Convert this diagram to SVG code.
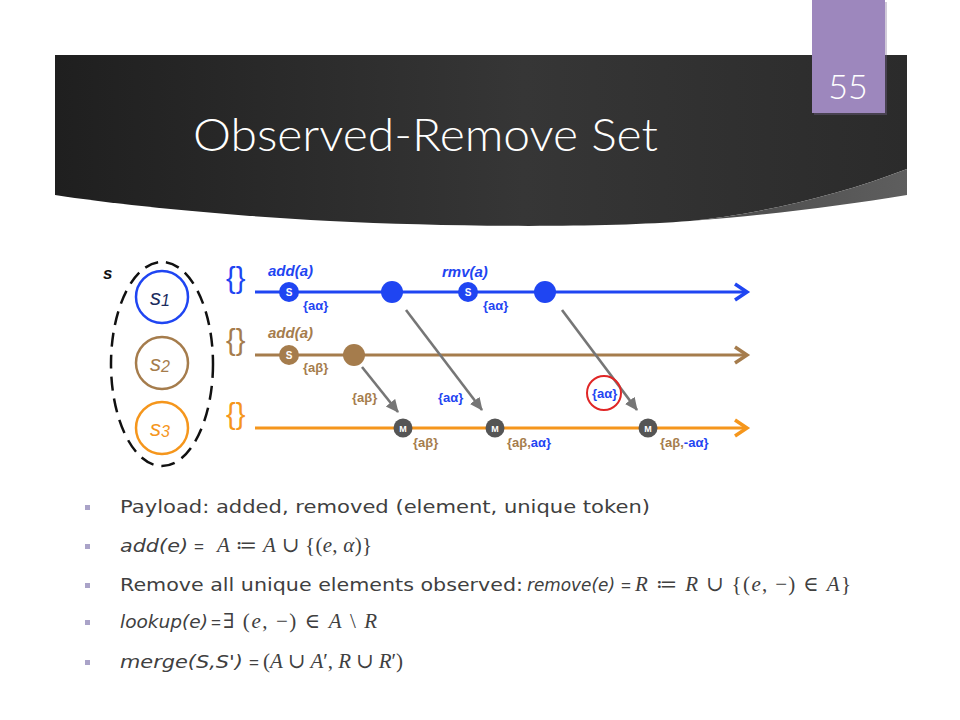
<svg xmlns="http://www.w3.org/2000/svg" width="960" height="720" viewBox="0 0 960 720">
<defs>
<linearGradient id="band" x1="0" y1="0" x2="1" y2="0">
<stop offset="0" stop-color="#1f1f1f"/>
<stop offset="0.55" stop-color="#363636"/>
<stop offset="1" stop-color="#2b2b2b"/>
</linearGradient>
<linearGradient id="curl" x1="0" y1="0" x2="1" y2="0">
<stop offset="0" stop-color="#4a4a4a"/>
<stop offset="1" stop-color="#5e5e5e"/>
</linearGradient>
<marker id="tri" markerWidth="14" markerHeight="14" refX="12" refY="6" orient="auto" markerUnits="userSpaceOnUse">
<path d="M0,0 L13,6 L0,12 Z" fill="#767676"/>
</marker>
</defs>
<style>
.tl{fill:none;stroke-width:3}
.chev{fill:none;stroke-width:3.5;stroke-linejoin:miter}
.lbl{font-family:"Liberation Sans",Arial,sans-serif;font-weight:bold;font-size:13px}
.op{font-family:"Liberation Sans",Arial,sans-serif;font-weight:bold;font-style:italic;font-size:15px}
.brace{font-family:"Liberation Sans",Arial,sans-serif;font-size:29px}
.nodeS{font-family:"Liberation Sans",Arial,sans-serif;font-weight:bold;font-size:10px;fill:#fff;text-anchor:middle}
.nodeM{font-family:"Liberation Sans",Arial,sans-serif;font-weight:bold;font-size:9px;fill:#fff;text-anchor:middle}
.conn{stroke:#767676;stroke-width:2.6;fill:none}
.body{font-family:"DejaVu Sans",sans-serif;font-size:18px;fill:#404040}
.eq{font-family:"Liberation Sans",Arial,sans-serif;font-size:17px;fill:#404040}
.it{font-style:italic}
.math{font-family:"Liberation Serif","DejaVu Serif",serif;font-size:21px;fill:#404040}
.mi{font-style:italic}
.bul{fill:#aaa3c8}
.blue{fill:#1f45f2}.brown{fill:#a57c4c}.orange{fill:#f5961c}
</style>
<rect width="960" height="720" fill="#ffffff"/>

<!-- header -->
<g id="header">
<path d="M55,55 H907 V169 C840,195 760,214 690,221 C600,228 450,227 330,221 C220,215 120,205 55,195 Z" fill="url(#band)"/>
<path d="M907,169 V195 C840,206 760,216 690,221 C760,214 840,195 907,169 Z" fill="url(#curl)"/>
<text x="193" y="151" font-family="Lato, Liberation Sans, Arial, sans-serif" font-weight="300" font-size="46" fill="#ffffff" textLength="465" lengthAdjust="spacingAndGlyphs">Observed-Remove Set</text>
</g>
<g id="pagenum">
<rect x="814" y="2" width="73" height="113" fill="#7a6a92" opacity="0.35"/>
<rect x="812" y="0" width="73" height="113" fill="#9d87bd"/>
<text x="848" y="99" font-family="Lato, Liberation Sans, Arial, sans-serif" font-weight="300" font-size="34" fill="#ffffff" text-anchor="middle">55</text>
</g>

<!-- set S -->
<g id="setS">
<ellipse cx="162" cy="364" rx="51" ry="102" fill="none" stroke="#111" stroke-width="2.5" stroke-dasharray="14 8"/>
<text x="103" y="279" font-family="Liberation Sans, Arial, sans-serif" font-weight="bold" font-style="italic" font-size="17" fill="#111">s</text>
</g>
<g id="s1">
<circle cx="162" cy="297" r="26" fill="#fff" stroke="#1f45f2" stroke-width="2.5"/>
<text x="150" y="305" font-family="Liberation Sans, Arial, sans-serif" font-style="italic" font-size="22" fill="#1b2b5e">s<tspan font-size="16" dy="1">1</tspan></text>
</g>
<g id="s2">
<circle cx="162" cy="363" r="26" fill="#fff" stroke="#a57c4c" stroke-width="2.5"/>
<text x="150" y="371" font-family="Liberation Sans, Arial, sans-serif" font-style="italic" font-size="22" fill="#a57c4c">s<tspan font-size="16" dy="1">2</tspan></text>
</g>
<g id="s3">
<circle cx="162" cy="428" r="26" fill="#fff" stroke="#f5961c" stroke-width="2.5"/>
<text x="150" y="436" font-family="Liberation Sans, Arial, sans-serif" font-style="italic" font-size="22" fill="#f5961c">s<tspan font-size="16" dy="1">3</tspan></text>
</g>

<!-- timelines -->
<g id="timelines">
<text class="brace blue" x="226" y="288">{}</text>
<text class="brace brown" x="226" y="350">{}</text>
<text class="brace orange" x="226" y="424">{}</text>
<line class="tl" x1="255" y1="292" x2="747" y2="292" stroke="#1f45f2"/>
<polyline class="chev" points="735,284 747,292 735,300" stroke="#1f45f2"/>
<line class="tl" x1="255" y1="355" x2="747" y2="355" stroke="#a57c4c"/>
<polyline class="chev" points="735,347 747,355 735,363" stroke="#a57c4c"/>
<line class="tl" x1="255" y1="428" x2="747" y2="428" stroke="#f5961c"/>
<polyline class="chev" points="735,420 747,428 735,436" stroke="#f5961c"/>
</g>

<!-- connectors -->
<g id="connectors">
<line class="conn" x1="362" y1="367" x2="398" y2="412" marker-end="url(#tri)"/>
<line class="conn" x1="406" y1="310" x2="482" y2="410" marker-end="url(#tri)"/>
<line class="conn" x1="562" y1="310" x2="637" y2="410" marker-end="url(#tri)"/>
</g>

<!-- nodes on blue line -->
<g id="s1-add">
<circle cx="289" cy="292" r="10" fill="#1f45f2"/>
<text class="nodeS" x="289" y="296">S</text>
<text class="op blue" x="268" y="276">add(a)</text>
<text class="lbl blue" x="303" y="310">{aα}</text>
</g>
<g id="s1-send1">
<circle cx="392" cy="292" r="11" fill="#1f45f2"/>
</g>
<g id="s1-rmv">
<circle cx="468" cy="292" r="10" fill="#1f45f2"/>
<text class="nodeS" x="468" y="296">S</text>
<text class="op blue" x="442" y="277">rmv(a)</text>
<text class="lbl blue" x="483" y="310">{aα}</text>
</g>
<g id="s1-send2">
<circle cx="545" cy="292" r="11" fill="#1f45f2"/>
</g>

<!-- nodes on brown line -->
<g id="s2-add">
<circle cx="289" cy="355" r="10" fill="#a57c4c"/>
<text class="nodeS" x="289" y="359">S</text>
<text class="op brown" x="268" y="338">add(a)</text>
<text class="lbl brown" x="303" y="372">{aβ}</text>
</g>
<g id="s2-send">
<circle cx="354" cy="355" r="11" fill="#a57c4c"/>
</g>

<!-- message labels -->
<g id="msg1"><text class="lbl brown" x="352" y="402">{aβ}</text></g>
<g id="msg2"><text class="lbl blue" x="438" y="402">{aα}</text></g>
<g id="msg3">
<circle cx="604" cy="393" r="17" fill="none" stroke="#e02626" stroke-width="2"/>
<text class="lbl blue" x="592" y="398">{aα}</text>
</g>

<!-- merge nodes on orange line -->
<g id="m1">
<circle cx="403" cy="428" r="9.5" fill="#555555"/>
<text class="nodeM" x="403" y="431.5">M</text>
<text class="lbl brown" x="413" y="447">{aβ}</text>
</g>
<g id="m2">
<circle cx="495" cy="428" r="9.5" fill="#555555"/>
<text class="nodeM" x="495" y="431.5">M</text>
<text class="lbl" x="507" y="447"><tspan class="brown">{aβ,</tspan><tspan class="blue">aα}</tspan></text>
</g>
<g id="m3">
<circle cx="648" cy="428" r="9.5" fill="#555555"/>
<text class="nodeM" x="648" y="431.5">M</text>
<text class="lbl" x="660" y="447"><tspan class="brown">{aβ,</tspan><tspan class="blue">-aα}</tspan></text>
</g>

<!-- bullets -->
<g id="bullets">
<rect class="bul" x="85" y="505" width="5" height="5"/>
<rect class="bul" x="85" y="544" width="5" height="5"/>
<rect class="bul" x="85" y="583" width="5" height="5"/>
<rect class="bul" x="85" y="620" width="5" height="5"/>
<rect class="bul" x="85" y="660" width="5" height="5"/>

<text class="body" x="120" y="513" textLength="530" lengthAdjust="spacingAndGlyphs">Payload: added, removed (element, unique token)</text>

<text class="body it" x="120" y="552" textLength="68" lengthAdjust="spacingAndGlyphs">add(e)</text>
<text class="eq" x="194" y="552">=</text>
<text class="math" x="217" y="552" textLength="155" lengthAdjust="spacing"><tspan class="mi">A</tspan> ≔ <tspan class="mi">A</tspan> ∪ {(<tspan class="mi">e</tspan>, <tspan class="mi">α</tspan>)}</text>

<text class="body" x="120" y="591" textLength="403" lengthAdjust="spacingAndGlyphs">Remove all unique elements observed:</text>
<text class="body it" x="527" y="591" textLength="88" lengthAdjust="spacingAndGlyphs">remove(e)</text>
<text class="eq" x="621" y="591">=</text>
<text class="math" x="635" y="591" textLength="216" lengthAdjust="spacing"><tspan class="mi">R</tspan> ≔ <tspan class="mi">R</tspan> ∪ {(<tspan class="mi">e</tspan>, −) ∈ <tspan class="mi">A</tspan>}</text>

<text class="body it" x="120" y="628" textLength="88" lengthAdjust="spacingAndGlyphs">lookup(e)</text>
<text class="eq" x="211" y="628">=</text>
<text class="math" x="223" y="628" textLength="154" lengthAdjust="spacing">∃ (<tspan class="mi">e</tspan>, −) ∈ <tspan class="mi">A</tspan> \ <tspan class="mi">R</tspan></text>

<text class="body it" x="120" y="668" textLength="123" lengthAdjust="spacingAndGlyphs">merge(S,S')</text>
<text class="eq" x="249" y="668">=</text>
<text class="math" x="263" y="668" textLength="140" lengthAdjust="spacing">(<tspan class="mi">A</tspan> ∪ <tspan class="mi">A</tspan>′, <tspan class="mi">R</tspan> ∪ <tspan class="mi">R</tspan>′)</text>
</g>
</svg>
